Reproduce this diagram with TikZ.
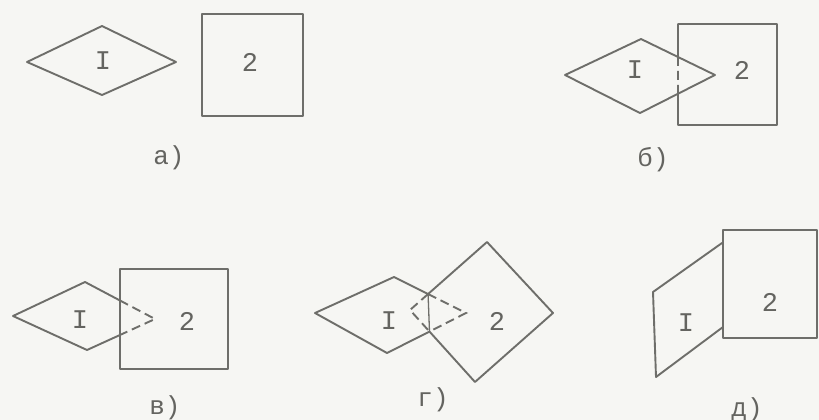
\documentclass[tikz,border=0pt]{standalone}
\usepackage{fontspec}
\setmonofont{Liberation Mono}
\definecolor{linegray}{RGB}{110,110,106}
\definecolor{textgray}{RGB}{100,100,96}
\definecolor{paper}{RGB}{246,246,243}
\tikzset{
  edge/.style={draw=linegray, line width=1.9pt, line join=round, line cap=round},
  hidden/.style={draw=linegray, line width=1.9pt, dash pattern=on 9pt off 5pt},
  cutline/.style={draw=linegray, line width=1.3pt},
  lbl/.style={font=\ttfamily\fontsize{27}{27}\selectfont, text=textgray, inner sep=0pt},
  sublabel/.style={font=\ttfamily\fontsize{26}{26}\selectfont, text=textgray, inner sep=0pt}
}
\begin{document}
\begin{tikzpicture}[x=1pt,y=-1pt]
\fill[paper] (0,0) rectangle (819,420);
\useasboundingbox (0,0) rectangle (819,420);
% ---------- a)
\coordinate (aL) at (27,62);
\coordinate (aT) at (102,26);
\coordinate (aR) at (176,62);
\coordinate (aB) at (102,95);
\draw[edge] (aL)--(aT)--(aR)--(aB)--cycle;
\draw[edge] (202,14) rectangle (303,116);
\node[lbl] (aI) at (103,61) {I};
\node[lbl] (a2) at (250,62) {2};
\node[sublabel] (acap) at (169,158) {а)};
% ---------- b)
\coordinate (bL) at (565,75);
\coordinate (bT) at (641,39);
\coordinate (bR) at (715,75);
\coordinate (bB) at (640,113);
\coordinate (bS1) at (678,24);
\coordinate (bS2) at (777,24);
\coordinate (bS3) at (777,125);
\coordinate (bS4) at (678,125);
\coordinate (bX1) at (intersection of bT--bR and bS1--bS4);
\coordinate (bX2) at (intersection of bR--bB and bS1--bS4);
\draw[edge] (bL)--(bT)--(bR)--(bB)--cycle;
\draw[edge] (bX1)--(bS1)--(bS2)--(bS3)--(bS4)--(bX2);
\draw[hidden] (bX1)--(bX2);
\node[lbl] (bI) at (635,70) {I};
\node[lbl] (b2) at (742,70) {2};
\node[sublabel] (bcap) at (653,160) {б)};
% ---------- v)
\coordinate (vL) at (13,316);
\coordinate (vT) at (85,282);
\coordinate (vR) at (155,319);
\coordinate (vB) at (87,350);
\coordinate (vS1) at (120,269);
\coordinate (vS3) at (228,369);
\coordinate (vS4) at (120,369);
\coordinate (vX1) at (intersection of vT--vR and vS1--vS4);
\coordinate (vX2) at (intersection of vR--vB and vS1--vS4);
\draw[edge] (vX1)--(vT)--(vL)--(vB)--(vX2);
\draw[hidden] (vX1)--(vR)--(vX2);
\draw[edge] (vS1) rectangle (vS3);
\node[lbl] (vI) at (80,320) {I};
\node[lbl] (v2) at (187,321) {2};
\node[sublabel] (vcap) at (165,408) {в)};
% ---------- g)
\coordinate (gL) at (315,313);
\coordinate (gT) at (394,277);
\coordinate (gR) at (466,313);
\coordinate (gB) at (387,353);
\coordinate (gST) at (487,242);
\coordinate (gSR) at (553,313);
\coordinate (gSB) at (475,382);
\coordinate (gSL) at (410,310);
\coordinate (gX1) at (intersection of gT--gR and gST--gSL);
\coordinate (gX2) at (intersection of gB--gR and gSB--gSL);
\draw[edge] (gX1)--(gT)--(gL)--(gB)--(gX2);
\draw[edge] (gX1)--(gST)--(gSR)--(gSB)--(gX2);
\draw[hidden] (gX1)--(gR)--(gX2);
\draw[hidden] (gX1)--(gSL)--(gX2);
\draw[cutline] (gX1)--(gX2);
\node[lbl] (gI) at (389,321) {I};
\node[lbl] (g2) at (497,321) {2};
\node[sublabel] (gcap) at (433,400) {г)};
% ---------- d)
\coordinate (dTL) at (653,292);
\coordinate (dBL) at (656,377);
\coordinate (dTR) at (722,243);
\coordinate (dBR) at (723,327);
\draw[edge] (dTR)--(dTL)--(dBL)--(dBR);
\draw[edge] (723,230) rectangle (817,338);
\node[lbl] (dI) at (686,323) {I};
\node[lbl] (d2) at (770,302) {2};
\node[sublabel] (dcap) at (747,410) {д)};
\end{tikzpicture}
\end{document}
